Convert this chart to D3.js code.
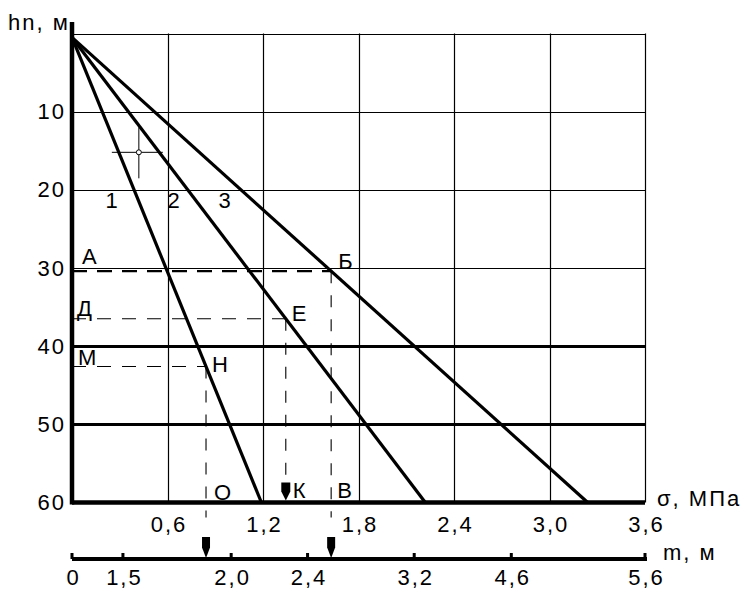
<!DOCTYPE html>
<html><head><meta charset="utf-8">
<script src="https://cdn.jsdelivr.net/npm/d3@7"></script>
<style>
html,body{margin:0;padding:0;background:#fff;}
text{font-family:"Liberation Sans",Arial,sans-serif;fill:#000;letter-spacing:2px;}
</style></head>
<body>
<script>
// ---- data ----
const sigmaTicks = [0.6, 1.2, 1.8, 2.4, 3.0, 3.6];
const hTicks = [10, 20, 30, 40, 50, 60];
const hGrid = [0, 10, 20, 30, 40, 50];
const hGridBold = [40, 50];
// lines: sigma (MPa) at the start (h=0.5) and at h=60
const lineNames = ["1", "2", "3"];
const lineStartH = 0.5;
const lineEndH = 60;
const lineEndSigma = [1.19, 2.22, 3.24];
// curve label positions (sigma, h)
const curveLabelSigma = [0.21, 0.60, 0.92];
const curveLabelH = 22.3;
// characteristic depths (A, Д, М) and which line they meet
const levelNames = ["А", "Д", "М"];
const levelH = [30.4, 36.5, 42.6];
const levelLine = [2, 1, 0];
const levelPointNames = ["Б", "Е", "Н"];
const levelFootNames = ["В", "К", "О"];
// m axis: tick values and their sigma-axis positions
const mTicks = [0, 1.5, 2.0, 2.4, 3.2, 4.6, 5.6];
const mTickSigma = [0, 0.32, 1.0, 1.48, 2.15, 2.76, 3.6];
// crosshair marker (sigma, h)
const crossSigma = 0.42, crossH = 15.2;

// ---- setup ----
const W = 748, H = 594;
const svg = d3.select("body").append("svg").attr("width", W).attr("height", H);
const x = d3.scaleLinear().domain([0, 3.6]).range([72, 645]);
const y = d3.scaleLinear().domain([0, 60]).range([33.5, 502.5]);
const mScale = d3.scaleLinear().domain(mTicks).range(mTickSigma.map(s => x(s)));
const comma = v => d3.format(".1f")(v).replace(".", ",");
const FS = 22;

// grid verticals
svg.append("g").selectAll("line").data(sigmaTicks).join("line")
  .attr("x1", d => Math.round(x(d)) + 0.5).attr("x2", d => Math.round(x(d)) + 0.5)
  .attr("y1", y(0)).attr("y2", y(60))
  .attr("stroke", "#000").attr("stroke-width", 1.2);
// grid horizontals
svg.append("g").selectAll("line").data(hGrid).join("line")
  .attr("x1", x(0)).attr("x2", x(3.6))
  .attr("y1", d => Math.round(y(d)) + 0.5).attr("y2", d => Math.round(y(d)) + 0.5)
  .attr("stroke", "#000").attr("stroke-width", d => hGridBold.includes(d) ? 2.8 : 1.2);

// dashed helpers
function sigmaOnLine(i, h) {
  return lineEndSigma[i] * (h - lineStartH) / (lineEndH - lineStartH);
}
const levels = levelH.map((h, k) => ({h, s: sigmaOnLine(levelLine[k], h), k}));
// horizontal dashed
svg.append("g").selectAll("line").data(levels).join("line")
  .attr("x1", x(0)).attr("x2", d => x(d.s))
  .attr("y1", d => y(d.h)).attr("y2", d => y(d.h))
  .attr("stroke", "#000")
  .attr("stroke-width", d => d.k === 0 ? 2.4 : 1.1)
  .attr("stroke-dasharray", d => d.k === 0 ? "15,10" : "14,11");
// vertical dashed
svg.append("g").selectAll("line").data(levels).join("line")
  .attr("x1", d => x(d.s)).attr("x2", d => x(d.s))
  .attr("y1", d => y(d.h))
  .attr("y2", d => d.k === 1 ? y(60) - 20 : y(60) + 15)
  .attr("stroke", "#000").attr("stroke-width", 1.1)
  .attr("stroke-dasharray", "12,12");

// main lines
const lineGen = d3.line().x(d => x(d[0])).y(d => y(d[1]));
svg.append("g").selectAll("path").data(lineEndSigma).join("path")
  .attr("d", s => lineGen([[0, lineStartH], [s, lineEndH]]))
  .attr("fill", "none").attr("stroke", "#000").attr("stroke-width", 3.2);

// axes lines
svg.append("line").attr("x1", x(0)).attr("x2", x(0)).attr("y1", 22).attr("y2", y(60) + 2)
  .attr("stroke", "#000").attr("stroke-width", 4.5);
svg.append("line").attr("x1", x(0)).attr("x2", x(3.6)).attr("y1", y(60)).attr("y2", y(60))
  .attr("stroke", "#000").attr("stroke-width", 4.5);

// y axis labels
const yAxis = svg.append("g").attr("transform", `translate(${x(0)},0)`)
  .call(d3.axisLeft(y).tickValues(hTicks).tickSize(0).tickPadding(6).tickFormat(d3.format("d")));
yAxis.select(".domain").remove();
yAxis.selectAll("text").attr("font-size", FS).attr("font-family", "Liberation Sans, Arial, sans-serif").attr("fill", "#000");

// x axis labels
const xAxis = svg.append("g").attr("transform", `translate(1,${y(60)})`)
  .call(d3.axisBottom(x).tickValues(sigmaTicks).tickSize(0).tickPadding(14).tickFormat(comma));
xAxis.select(".domain").remove();
xAxis.selectAll("text").attr("font-size", FS).attr("font-family", "Liberation Sans, Arial, sans-serif").attr("fill", "#000");

// m axis
const mY = 559;
svg.append("line").attr("x1", mScale(0)).attr("x2", mScale(5.6) + 2).attr("y1", mY).attr("y2", mY)
  .attr("stroke", "#000").attr("stroke-width", 4);
const mAxis = svg.append("g").attr("transform", `translate(1,${mY})`)
  .call(d3.axisBottom(mScale).tickValues(mTicks).tickSize(0).tickPadding(10)
    .tickFormat(d => d === 0 ? "0" : comma(d)));
mAxis.select(".domain").remove();
mAxis.selectAll("text").attr("font-size", FS).attr("font-family", "Liberation Sans, Arial, sans-serif").attr("fill", "#000");
svg.append("g").selectAll("rect").data(mTicks).join("rect")
  .attr("x", d => mScale(d) - 1.5).attr("y", mY - 6).attr("width", 3).attr("height", 6).attr("fill", "#000");

// triangles on m axis (from Н and Б)
const tri = (cx, tipY, w, h) => `M${cx - w / 2},${tipY - h}L${cx + w / 2},${tipY - h}L${cx + w / 2},${tipY - h * 0.5}L${cx},${tipY}L${cx - w / 2},${tipY - h * 0.5}Z`;
svg.append("g").selectAll("path").data([levels[2], levels[0]]).join("path")
  .attr("d", d => tri(x(d.s), mY - 1, 8, 21)).attr("fill", "#000");
// triangle K
svg.append("path").attr("d", tri(x(levels[1].s), y(60) - 2, 9, 18)).attr("fill", "#000");

// text labels
const T = (tx, ty, s, anchor) => svg.append("text").attr("x", tx).attr("y", ty)
  .attr("font-size", FS).attr("text-anchor", anchor || "start").text(s);
T(8, 30, "hn, м");
T(x(3.6) + 12, y(60) + 3, "σ, МПа");
T(mScale(5.6) + 18, mY + 1, "m, м");
// level letters
T(x(0) + 10, y(levels[0].h) - 7, levelNames[0]);
T(x(0) + 5, y(levels[1].h) - 3, levelNames[1]);
T(x(0) + 6, y(levels[2].h) - 1, levelNames[2]);
T(x(levels[0].s) + 7, y(levels[0].h) - 2, levelPointNames[0]);
T(x(levels[1].s) + 6, y(levels[1].h) + 2, levelPointNames[1]);
T(x(levels[2].s) + 6, y(levels[2].h) + 6, levelPointNames[2]);
T(x(levels[0].s) + 6, y(60) - 5, levelFootNames[0]);
T(x(levels[1].s) + 7, y(60) - 5, levelFootNames[1]);
T(x(levels[2].s) + 8, y(60) - 3, levelFootNames[2]);
// curve numbers
lineNames.forEach((n, i) => T(x(curveLabelSigma[i]), y(curveLabelH), n));

// crosshair
const cx = x(crossSigma), cy = y(crossH);
svg.append("line").attr("x1", cx - 27).attr("x2", cx + 24).attr("y1", cy).attr("y2", cy).attr("stroke", "#000").attr("stroke-width", 1);
svg.append("line").attr("x1", cx).attr("x2", cx).attr("y1", cy - 25).attr("y2", cy + 26).attr("stroke", "#000").attr("stroke-width", 1);
svg.append("circle").attr("cx", cx).attr("cy", cy).attr("r", 2.5).attr("fill", "#fff").attr("stroke", "#000").attr("stroke-width", 1);
</script>
</body></html>
